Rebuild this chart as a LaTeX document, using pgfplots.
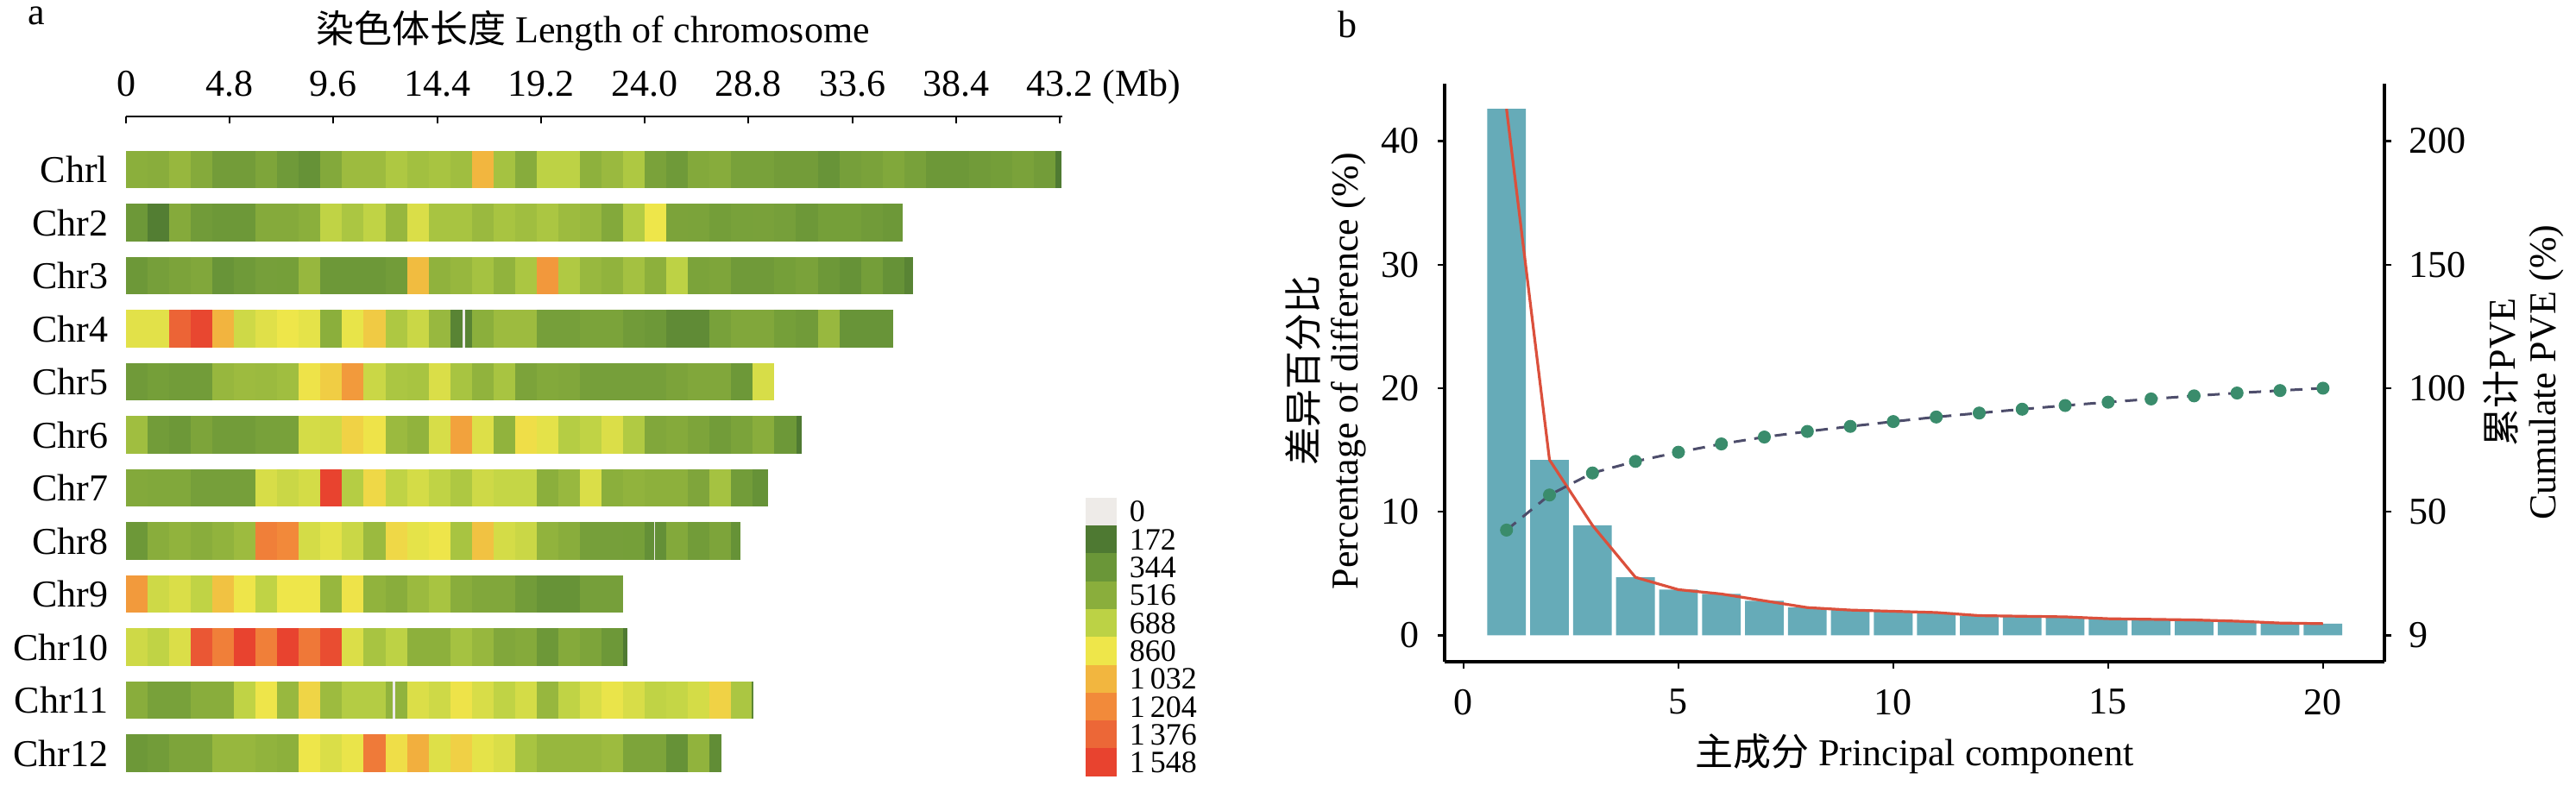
\documentclass[border=0pt]{standalone}
\usepackage{fontspec}
\setmainfont{Liberation Serif}
\newfontfamily\cjk{Noto Sans CJK SC}
\usepackage{pgfplots}
\pgfplotsset{compat=1.18}
\definecolor{barc}{RGB}{102,171,184}
\definecolor{redc}{RGB}{219,80,60}
\definecolor{dotc}{RGB}{58,140,108}
\definecolor{dashc}{RGB}{77,77,107}
\pgfplotsset{
  every axis/.append style={font=\fontsize{11}{13}\selectfont},
  tick label style={font=\fontsize{11}{13}\selectfont},
  snpmap/.style={colormap={snp}{rgb255=(238,235,232) rgb255=(78,121,50) rgb255=(106,150,56) rgb255=(138,174,60) rgb255=(188,210,69) rgb255=(238,230,74) rgb255=(242,182,63) rgb255=(242,138,58) rgb255=(236,103,55) rgb255=(232,67,47)}, point meta min=0, point meta max=1548},
  bins/.style={scatter, only marks, mark=|, mark size=5.41pt, point meta=explicit, scatter/use mapped color={draw=mapped color, fill=mapped color}},
}
\newcommand{\seg}[4]{\addplot[bins, mark options={line width=#3}] coordinates {(#1,#2) [#4]};}
\begin{document}
\begin{tikzpicture}[font=\fontsize{11}{13}\selectfont]
\useasboundingbox (0,0) rectangle (746.25pt,229.5pt);
% ---------------- panel a ----------------
\begin{axis}[
  at={(36.5pt,195.75pt)}, anchor=north west,
  x=6.2625pt, y=15.375pt,
  xmin=0, xmax=43.3, ymin=0.5, ymax=13,
  axis x line*=top, axis y line*=left,
  y axis line style={draw=none},
  x axis line style={line width=0.7pt},
  tick align=inside,
  xtick={0,4.8,9.6,14.4,19.2,24,28.8,33.6,38.4,43.2},
  xticklabels={0,4.8,9.6,14.4,19.2,24.0,28.8,33.6,38.4,{43.2\rlap{ (Mb)}}},
  xticklabel style={anchor=base, inner sep=0pt, yshift=5.75pt},
  major x tick style={line width=0.5pt, black}, major tick length=2pt,
  ytick={1,...,12},
  yticklabels={Chr12,Chr11,Chr10,Chr9,Chr8,Chr7,Chr6,Chr5,Chr4,Chr3,Chr2,Chrl},
  major y tick style={draw=none},
  yticklabel style={anchor=east, inner sep=0pt, xshift=-5pt},
  snpmap, clip=false,
]
\addplot[bins, mark options={line width=6.3pt}] table[x=x, y=y, meta=c] {
x y c
0.5 12 520
1.5 12 510
2.5 12 560
3.5 12 490
4.5 12 390
5.5 12 390
6.5 12 450
7.5 12 370
8.5 12 320
9.5 12 480
10.5 12 580
11.5 12 580
12.5 12 640
13.5 12 600
14.5 12 620
15.5 12 590
16.5 12 1030
17.5 12 610
18.5 12 500
19.5 12 690
20.5 12 690
21.5 12 530
22.5 12 570
23.5 12 640
24.5 12 430
25.5 12 370
26.5 12 480
27.5 12 500
28.5 12 420
29.5 12 420
30.5 12 390
31.5 12 390
32.5 12 330
33.5 12 410
34.5 12 430
35.5 12 470
36.5 12 420
37.5 12 360
38.5 12 360
39.5 12 380
40.5 12 400
41.5 12 430
42.5 12 390
0.5 11 360
1.5 11 200
2.5 11 490
3.5 11 380
4.5 11 360
5.5 11 360
6.5 11 490
7.5 11 490
8.5 11 520
9.5 11 700
10.5 11 630
11.5 11 700
12.5 11 560
13.5 11 790
14.5 11 620
15.5 11 620
16.5 11 570
17.5 11 620
18.5 11 590
19.5 11 630
20.5 11 580
21.5 11 565
22.5 11 480
23.5 11 660
24.5 11 860
25.5 11 440
26.5 11 435
27.5 11 400
28.5 11 420
29.5 11 425
30.5 11 410
31.5 11 360
32.5 11 405
33.5 11 405
34.5 11 380
0.5 10 360
1.5 10 410
2.5 10 440
3.5 10 465
4.5 10 330
5.5 10 370
6.5 10 410
7.5 10 405
8.5 10 560
9.5 10 360
10.5 10 360
11.5 10 360
12.5 10 385
13.5 10 1010
14.5 10 535
15.5 10 560
16.5 10 610
17.5 10 540
18.5 10 630
19.5 10 1150
20.5 10 645
21.5 10 565
22.5 10 540
23.5 10 605
24.5 10 525
25.5 10 690
26.5 10 435
27.5 10 450
28.5 10 375
29.5 10 375
30.5 10 405
31.5 10 430
32.5 10 360
33.5 10 320
34.5 10 400
35.5 10 320
0.5 9 820
1.5 9 820
2.5 9 1390
3.5 9 1530
4.5 9 1040
5.5 9 750
6.5 9 810
7.5 9 860
8.5 9 830
9.5 9 520
10.5 9 840
11.5 9 960
12.5 9 640
13.5 9 735
14.5 9 565
15.5 9 240
16.5 9 520
17.5 9 580
18.5 9 580
19.5 9 410
20.5 9 410
21.5 9 435
22.5 9 435
23.5 9 380
24.5 9 360
25.5 9 280
26.5 9 280
27.5 9 420
28.5 9 465
29.5 9 465
30.5 9 405
31.5 9 380
32.5 9 565
33.5 9 330
34.5 9 330
0.5 8 375
1.5 8 405
2.5 8 385
3.5 8 385
4.5 8 560
5.5 8 580
6.5 8 575
7.5 8 590
8.5 8 870
9.5 8 950
10.5 8 1140
11.5 8 735
12.5 8 630
13.5 8 620
14.5 8 790
15.5 8 620
16.5 8 540
17.5 8 620
18.5 8 440
19.5 8 480
20.5 8 465
21.5 8 410
22.5 8 410
23.5 8 410
24.5 8 410
25.5 8 440
26.5 8 465
27.5 8 465
28.5 8 360
0.5 7 590
1.5 7 385
2.5 7 360
3.5 7 445
4.5 7 385
5.5 7 385
6.5 7 420
7.5 7 420
8.5 7 770
9.5 7 760
10.5 7 930
11.5 7 870
12.5 7 575
13.5 7 540
14.5 7 780
15.5 7 1110
16.5 7 800
17.5 7 540
18.5 7 890
19.5 7 825
20.5 7 665
21.5 7 700
22.5 7 795
23.5 7 650
24.5 7 465
25.5 7 490
26.5 7 445
27.5 7 385
28.5 7 435
29.5 7 510
30.5 7 360
0.5 6 480
1.5 6 470
2.5 6 470
3.5 6 410
4.5 6 410
5.5 6 410
6.5 6 780
7.5 6 735
8.5 6 770
9.5 6 1548
10.5 6 665
11.5 6 910
12.5 6 700
13.5 6 770
14.5 6 700
15.5 6 640
16.5 6 750
17.5 6 720
18.5 6 720
19.5 6 520
20.5 6 565
21.5 6 790
22.5 6 520
23.5 6 540
24.5 6 525
25.5 6 525
26.5 6 455
27.5 6 610
28.5 6 385
0.5 5 360
1.5 5 510
2.5 5 540
3.5 5 510
4.5 5 540
5.5 5 580
6.5 5 1260
7.5 5 1210
8.5 5 770
9.5 5 825
10.5 5 735
11.5 5 575
12.5 5 910
13.5 5 830
14.5 5 865
15.5 5 620
16.5 5 990
17.5 5 770
18.5 5 735
19.5 5 540
20.5 5 510
21.5 5 410
22.5 5 410
23.5 5 405
24.5 5 310
25.5 5 480
26.5 5 385
27.5 5 445
0.5 4 1140
1.5 4 750
2.5 4 790
3.5 4 700
4.5 4 990
5.5 4 865
6.5 4 700
7.5 4 860
8.5 4 860
9.5 4 560
10.5 4 870
11.5 4 540
12.5 4 510
13.5 4 575
14.5 4 620
15.5 4 510
16.5 4 465
17.5 4 465
18.5 4 385
19.5 4 325
20.5 4 325
21.5 4 410
22.5 4 410
0.5 3 750
1.5 3 700
2.5 3 795
3.5 3 1450
4.5 3 1260
5.5 3 1548
6.5 3 1260
7.5 3 1548
8.5 3 1290
9.5 3 1500
10.5 3 795
11.5 3 620
12.5 3 690
13.5 3 525
14.5 3 525
15.5 3 610
16.5 3 560
17.5 3 465
18.5 3 490
19.5 3 360
20.5 3 490
21.5 3 445
22.5 3 360
0.5 2 510
1.5 2 420
2.5 2 420
3.5 2 510
4.5 2 510
5.5 2 700
6.5 2 865
7.5 2 565
8.5 2 920
9.5 2 580
10.5 2 660
11.5 2 660
12.5 2 540
13.5 2 795
14.5 2 750
15.5 2 870
16.5 2 785
17.5 2 700
18.5 2 770
19.5 2 560
20.5 2 700
21.5 2 785
22.5 2 845
23.5 2 785
24.5 2 700
25.5 2 720
26.5 2 770
27.5 2 930
28.5 2 630
0.5 1 360
1.5 1 385
2.5 1 445
3.5 1 445
4.5 1 560
5.5 1 560
6.5 1 540
7.5 1 525
8.5 1 860
9.5 1 790
10.5 1 845
11.5 1 1280
12.5 1 890
13.5 1 1060
14.5 1 805
15.5 1 940
16.5 1 830
17.5 1 790
18.5 1 620
19.5 1 560
20.5 1 560
21.5 1 560
22.5 1 580
23.5 1 445
24.5 1 445
25.5 1 320
26.5 1 540
};
% partial last bins and thin gaps
\seg{43.135}{12}{1.69pt}{180}
\seg{35.47}{11}{5.89pt}{360}
\seg{36.205}{10}{2.57pt}{240}
\seg{35.25}{9}{3.13pt}{330}
\seg{15.62}{9}{0.75pt}{0}
\seg{29.48}{8}{6.01pt}{780}
\seg{31.125}{7}{1.57pt}{180}
\seg{29.35}{6}{4.38pt}{320}
\seg{28.22}{5}{2.76pt}{320}
\seg{24.45}{5}{0.4pt}{0}
\seg{23.105}{3}{1.32pt}{180}
\seg{28.98}{2}{0.38pt}{250}
\seg{12.39}{2}{0.75pt}{0}
\seg{27.265}{1}{3.32pt}{290}
\end{axis}
% ---------------- colour key ----------------
\begin{axis}[
  at={(314.5pt,85.25pt)}, anchor=north west,
  width=9pt, height=80.75pt, scale only axis,
  xmin=0, xmax=1, ymin=-0.5, ymax=9.5,
  axis x line=none, axis y line*=right,
  y axis line style={draw=none}, major y tick style={draw=none},
  ytick={0,...,9},
  yticklabels={1\,548,1\,376,1\,204,1\,032,860,688,516,344,172,0},
  yticklabel style={anchor=west, inner sep=0pt, xshift=3.5pt, font=\fontsize{9}{10}\selectfont},
  snpmap, clip=false,
]
\addplot[bins, mark size=4.1pt, mark options={line width=9pt}] table[x=x, y=y, meta=c] {
x y c
0.5 9 0
0.5 8 172
0.5 7 344
0.5 6 516
0.5 5 688
0.5 4 860
0.5 3 1032
0.5 2 1204
0.5 1 1376
0.5 0 1548
};
\end{axis}
% ---------------- panel b, left axis ----------------
\begin{axis}[
  at={(418.5pt,37.75pt)}, anchor=south west,
  width=272.25pt, height=167.5pt, scale only axis,
  xmin=-0.44, xmax=21.43, ymin=-2.13, ymax=44.64,
  axis x line*=bottom, axis y line*=left,
  axis line style={line width=0.8pt},
  xtick={0,5,10,15,20}, ytick={0,10,20,30,40},
  tick align=outside, major tick length=2pt,
  tick style={line width=0.6pt, black},
  xticklabel style={inner sep=0pt, yshift=-5.75pt},
  yticklabel style={inner sep=0pt, xshift=-5.25pt},
  /pgf/number format/assume math mode=true,
  clip=false,
]
\addplot[ybar, bar width=0.9, fill=barc, draw=none] table {
x y
1 42.6
2 14.2
3 8.9
4 4.7
5 3.7
6 3.35
7 2.8
8 2.25
9 2.05
10 1.95
11 1.85
12 1.6
13 1.55
14 1.5
15 1.35
16 1.3
17 1.25
18 1.15
19 1.0
20 0.95
};
\addplot[redc, line width=0.8pt, mark=none] table {
x y
1 42.6
2 14.2
3 8.9
4 4.7
5 3.7
6 3.35
7 2.8
8 2.25
9 2.05
10 1.95
11 1.85
12 1.6
13 1.55
14 1.5
15 1.35
16 1.3
17 1.25
18 1.15
19 1.0
20 0.95
};
\end{axis}
% ---------------- panel b, right axis ----------------
\begin{axis}[
  at={(418.5pt,37.75pt)}, anchor=south west,
  width=272.25pt, height=167.5pt, scale only axis,
  xmin=-0.44, xmax=21.43, ymin=-10.65, ymax=223.2,
  axis x line=none, axis y line*=right,
  axis line style={line width=0.8pt},
  ytick={0,50,100,150,200}, yticklabels={9,50,100,150,200},
  tick align=outside, major tick length=2pt,
  tick style={line width=0.6pt, black},
  yticklabel style={inner sep=0pt, xshift=5pt},
  clip=false,
]
\addplot[dashc, line width=0.75pt, dash pattern=on 3.5pt off 2.5pt, mark=*, mark size=1.5pt, mark options={solid, fill=dotc, draw=dotc}] table {
x y
1 42.6
2 56.8
3 65.7
4 70.4
5 74.1
6 77.45
7 80.25
8 82.5
9 84.55
10 86.5
11 88.35
12 89.95
13 91.5
14 93.0
15 94.35
16 95.65
17 96.9
18 98.05
19 99.05
20 100.0
};
\end{axis}
% ---------------- text ----------------
\node[anchor=base west] at (4.5pt,222.25pt) {a};
\node[anchor=base west] at (384pt,218.5pt) {b};
\node[anchor=base] at (171.75pt,217pt) {{\cjk 染色体长度} Length of chromosome};
\node[anchor=base] at (554.6pt,7.5pt) {{\cjk 主成分} Principal component};
\node[rotate=90, anchor=base] at (381.5pt,122pt) {\cjk 差异百分比};
\node[rotate=90, anchor=base] at (393.25pt,122pt) {Percentage of difference (\%)};
\node[rotate=90, anchor=base] at (728.5pt,121.6pt) {{\cjk 累计}PVE};
\node[rotate=90, anchor=base] at (740.25pt,121.6pt) {Cumulate PVE (\%)};
\end{tikzpicture}
\end{document}
